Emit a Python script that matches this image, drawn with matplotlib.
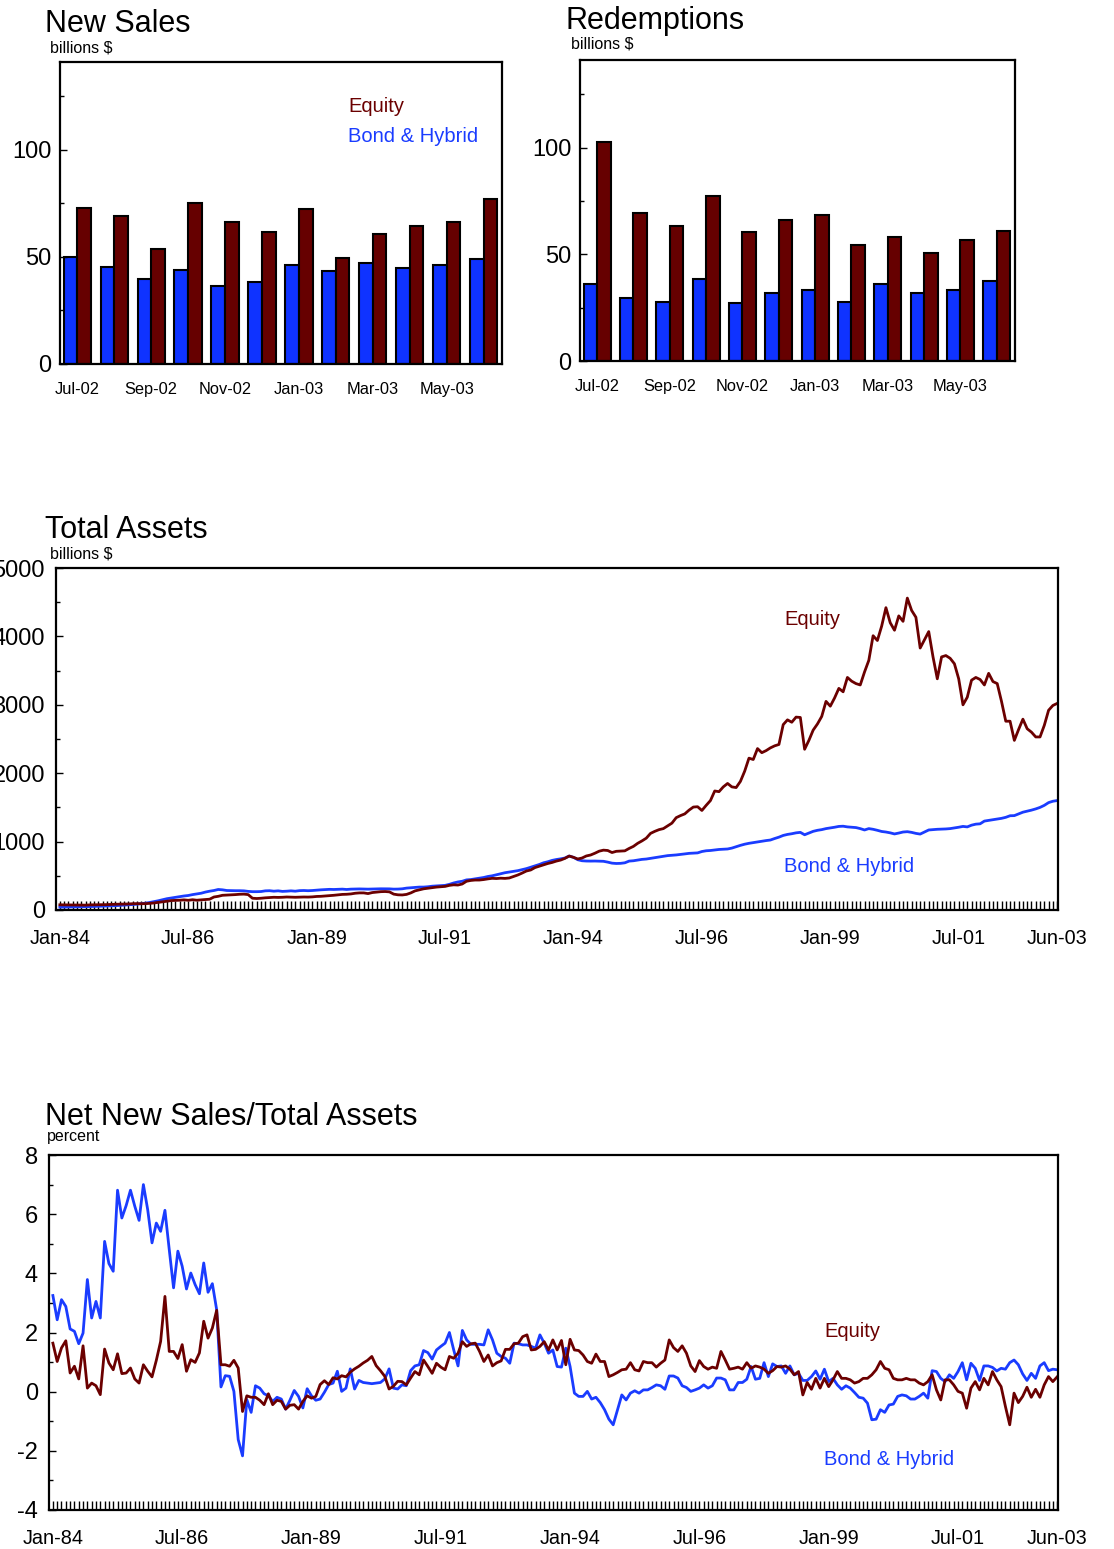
import numpy as np
import pandas as pd
import matplotlib
matplotlib.use("Agg")
import matplotlib.pyplot as plt
from matplotlib.ticker import MultipleLocator, FixedLocator

plt.rcParams['font.family'] = ['Liberation Sans', 'DejaVu Sans']
plt.rcParams['axes.unicode_minus'] = False

EQ = '#660000'
BOND = '#0F33FF'
EQ_LINE = '#6B0000'
BOND_LINE = '#1A3CFF'

# ---- monthly flows, billions $ (Jul-02 .. Jun-03)
bar_months = ['Jul-02', 'Aug-02', 'Sep-02', 'Oct-02', 'Nov-02', 'Dec-02',
              'Jan-03', 'Feb-03', 'Mar-03', 'Apr-03', 'May-03', 'Jun-03']
sales_bond = [50.0, 45.3, 39.9, 44.0, 36.5, 38.5, 46.0, 43.5, 47.0, 44.7, 46.0, 48.8]
sales_equity = [72.7, 69.1, 53.7, 75.2, 66.1, 61.5, 72.2, 49.5, 60.7, 64.3, 66.1, 76.9]
redemp_bond = [36.2, 29.7, 27.8, 38.6, 27.4, 32.0, 33.3, 27.8, 36.2, 32.0, 33.3, 37.3]
redemp_equity = [102.5, 69.2, 63.1, 77.4, 60.2, 66.1, 68.4, 54.3, 57.9, 50.5, 56.8, 60.8]

# ---- total assets, billions $ (Jan-84 .. Jun-03, one row per year)
assets_equity = [
    76, 75, 74, 73, 72, 72, 71, 75, 76, 76, 77, 79,
    82, 84, 85, 86, 88, 92, 93, 92, 93, 97, 103, 112,
    120, 128, 138, 140, 143, 148, 142, 150, 143, 148, 153, 158,
    190, 200, 215, 218, 220, 225, 230, 232, 225, 172, 168, 172,
    178, 182, 186, 184, 186, 190, 188, 186, 188, 190, 189, 192,
    198, 200, 205, 210, 215, 222, 228, 230, 235, 245, 250, 250,
    240, 255, 262, 268, 270, 265, 232, 222, 220, 228, 250, 280,
    295, 310, 318, 325, 335, 340, 345, 360, 368, 365, 380, 420,
    432, 438, 438, 445, 455, 463, 460, 465, 462, 468, 490, 512,
    540, 570, 585, 620, 640, 660, 680, 695, 715, 730, 755, 789,
    770, 746, 760, 790, 804, 830, 860, 875, 870, 840, 858, 862,
    865, 900, 930, 975, 1010, 1050, 1120, 1150, 1175, 1190, 1230, 1270,
    1350, 1380, 1405, 1460, 1505, 1510, 1455, 1530, 1600, 1740, 1730, 1800,
    1850, 1800, 1790, 1880, 2030, 2220, 2200, 2360, 2300, 2330, 2370, 2400,
    2420, 2710, 2780, 2745, 2820, 2815, 2350, 2480, 2630, 2720, 2830, 3050,
    2980, 3100, 3240, 3190, 3400, 3345, 3310, 3290, 3480, 3650, 4010, 3940,
    4150, 4420, 4200, 4090, 4300, 4220, 4560, 4380, 4280, 3830, 3950, 4070,
    3700, 3380, 3700, 3720, 3680, 3600, 3380, 3000, 3110, 3360, 3400, 3370,
    3290, 3460, 3340, 3310, 3050, 2760, 2760, 2480, 2640, 2790, 2650, 2600,
    2530, 2530, 2700, 2920, 2990, 3020,
]
assets_bond = [
    42, 43, 44, 45, 46, 47, 48, 50, 52, 54, 56, 58,
    60, 63, 67, 72, 76, 80, 85, 92, 100, 110, 122, 135,
    150, 165, 175, 185, 195, 205, 212, 225, 235, 245, 262, 275,
    285, 300, 295, 285, 283, 282, 282, 280, 272, 268, 268, 270,
    280, 282, 275, 280, 272, 275, 280, 275, 283, 285, 282, 285,
    290, 295, 298, 302, 300, 302, 305, 300, 305, 307, 308, 306,
    305, 307, 308, 310, 310, 309, 305, 306, 310, 320, 325, 330,
    335, 335, 340, 348, 352, 356, 360, 375, 395, 410, 420, 440,
    445, 455, 465, 475, 490, 500, 515, 530, 545, 555, 565, 575,
    590, 605, 625, 645, 665, 690, 705, 725, 738, 748, 760, 789,
    770, 735, 720, 716, 715, 716, 714, 712, 700, 685, 680, 682,
    690, 715, 720, 730, 740, 745, 755, 765, 775, 785, 795, 800,
    805, 812, 820, 828, 832, 835, 855, 866, 870, 878, 885, 888,
    892, 905, 925, 945, 962, 975, 985, 995, 1005, 1015, 1023, 1045,
    1065, 1090, 1105, 1115, 1128, 1135, 1100, 1125, 1150, 1165, 1175, 1190,
    1200, 1210, 1222, 1225, 1215, 1210, 1205, 1190, 1170, 1190, 1180, 1165,
    1148, 1140, 1128, 1112, 1125, 1140, 1145, 1135, 1120, 1110, 1140, 1170,
    1175, 1180, 1182, 1185, 1190, 1200, 1210, 1222, 1215, 1240, 1255, 1260,
    1300, 1310, 1320, 1330, 1340, 1355, 1378, 1380, 1405, 1430, 1445, 1460,
    1478, 1500, 1530, 1570, 1590, 1600,
]

# ---- net new sales / total assets, percent
net_equity = [
    1.64, 1.02, 1.48, 1.72, 0.63, 0.86, 0.43, 1.55, 0.12, 0.29, 0.20, -0.10,
    1.44, 0.97, 0.74, 1.28, 0.61, 0.63, 0.80, 0.43, 0.29, 0.91, 0.69, 0.50,
    1.06, 1.70, 3.22, 1.36, 1.36, 1.12, 1.59, 0.69, 1.08, 0.99, 1.31, 2.38,
    1.81, 2.15, 2.75, 0.91, 0.91, 0.86, 1.06, 0.80, -0.67, -0.14, -0.19, -0.19,
    -0.29, -0.44, -0.07, -0.44, -0.29, -0.33, -0.59, -0.46, -0.44, -0.59, -0.33, -0.14,
    -0.22, -0.16, 0.24, 0.37, 0.24, 0.47, 0.43, 0.54, 0.50, 0.66, 0.77, 0.86,
    0.97, 1.06, 1.19, 0.88, 0.71, 0.52, 0.09, 0.18, 0.35, 0.34, 0.23, 0.46,
    0.68, 0.57, 1.07, 0.85, 0.62, 0.96, 0.83, 0.74, 1.19, 1.13, 1.30, 1.69,
    1.53, 1.62, 1.64, 1.36, 1.02, 1.24, 0.87, 0.98, 1.04, 1.43, 1.43, 1.62,
    1.64, 1.86, 1.92, 1.41, 1.43, 1.53, 1.69, 1.41, 1.75, 1.41, 1.73, 0.91,
    1.77, 1.41, 1.39, 1.24, 1.02, 0.96, 1.27, 1.02, 1.02, 0.51, 0.57, 0.65,
    0.74, 0.76, 0.98, 0.74, 0.70, 1.02, 0.98, 0.98, 0.83, 0.96, 1.07, 1.75,
    1.49, 1.36, 1.55, 1.30, 0.87, 0.68, 1.05, 0.85, 0.76, 0.83, 0.79, 1.36,
    1.07, 0.76, 0.79, 0.83, 0.76, 0.98, 0.79, 0.87, 0.83, 0.76, 0.62, 0.71,
    0.85, 0.83, 0.87, 0.76, 0.57, 0.68, -0.11, 0.31, 0.08, 0.45, 0.12, 0.45,
    0.17, 0.40, 0.68, 0.45, 0.45, 0.40, 0.29, 0.34, 0.45, 0.45, 0.57, 0.74,
    1.02, 0.79, 0.74, 0.45, 0.40, 0.40, 0.45, 0.40, 0.40, 0.29, 0.23, 0.34,
    0.57, 0.06, -0.28, 0.40, 0.40, 0.23, 0.01, -0.05, -0.56, 0.12, 0.34, 0.06,
    0.45, 0.23, 0.68, 0.40, 0.17, -0.50, -1.12, -0.05, -0.37, -0.16, 0.15, -0.19,
    0.08, -0.19, 0.23, 0.51, 0.34, 0.50,
]
net_bond = [
    3.25, 2.43, 3.11, 2.88, 2.12, 2.04, 1.62, 1.98, 3.79, 2.49, 3.05, 2.49,
    5.08, 4.33, 4.07, 6.81, 5.87, 6.29, 6.81, 6.27, 5.79, 7.00, 6.15, 5.03,
    5.70, 5.42, 6.13, 4.80, 3.51, 4.75, 4.24, 3.47, 4.01, 3.62, 3.31, 4.35,
    3.36, 3.65, 2.77, 0.16, 0.54, 0.52, 0.01, -1.62, -2.17, -0.27, -0.70, 0.20,
    0.12, -0.07, -0.14, -0.33, -0.19, -0.25, -0.59, -0.29, 0.04, -0.16, -0.55, 0.10,
    -0.14, -0.29, -0.25, -0.02, 0.24, 0.29, 0.69, 0.01, 0.12, 0.77, 0.09, 0.38,
    0.31, 0.29, 0.27, 0.29, 0.31, 0.43, 0.77, 0.12, 0.09, 0.23, 0.20, 0.71,
    0.87, 0.91, 1.39, 1.32, 1.10, 1.41, 1.53, 1.64, 2.00, 1.41, 0.87, 2.07,
    1.75, 1.60, 1.60, 1.60, 1.58, 2.09, 1.75, 1.30, 1.19, 1.13, 0.96, 1.64,
    1.62, 1.58, 1.58, 1.53, 1.47, 1.92, 1.64, 1.30, 1.41, 0.85, 0.83, 1.47,
    0.85, -0.05, -0.16, -0.16, 0.01, -0.25, -0.19, -0.37, -0.61, -0.93, -1.12, -0.61,
    -0.11, -0.28, -0.05, 0.03, -0.05, 0.06, 0.06, 0.14, 0.23, 0.20, 0.08, 0.53,
    0.53, 0.46, 0.20, 0.14, 0.01, 0.06, 0.12, 0.23, 0.12, 0.20, 0.46, 0.46,
    0.40, 0.06, 0.06, 0.31, 0.31, 0.42, 0.85, 0.42, 0.45, 0.98, 0.51, 0.94,
    0.85, 0.87, 0.62, 0.87, 0.57, 0.62, 0.38, 0.38, 0.51, 0.70, 0.42, 0.76,
    0.34, 0.45, 0.23, 0.08, 0.20, 0.12, -0.03, -0.19, -0.22, -0.39, -0.95, -0.93,
    -0.61, -0.70, -0.45, -0.42, -0.16, -0.11, -0.14, -0.25, -0.25, -0.16, -0.05, -0.22,
    0.71, 0.68, 0.45, 0.34, 0.57, 0.45, 0.68, 0.98, 0.40, 0.96, 0.79, 0.38,
    0.87, 0.87, 0.82, 0.70, 0.79, 0.76, 0.98, 1.07, 0.91, 0.60, 0.38, 0.62,
    0.45, 0.87, 0.98, 0.71, 0.76, 0.74,
]

line_dates = pd.date_range('1984-01-01', periods=len(assets_equity), freq='MS')
line_ticks = ['Jan-84', 'Jul-86', 'Jan-89', 'Jul-91', 'Jan-94',
              'Jul-96', 'Jan-99', 'Jul-01', 'Jun-03']

W, H = 1114, 1549
fig = plt.figure(figsize=(W / 100, H / 100), dpi=100)


def px_axes(left, top, right, bottom):
    return fig.add_axes([left / W, 1 - bottom / H, (right - left) / W, (bottom - top) / H])


def heading(x, y_title, y_unit, title, unit, unit_x=None):
    fig.text(x / W, 1 - y_title / H, title, fontsize=22, va='baseline')
    ux = x + 5 if unit_x is None else unit_x
    fig.text(ux / W, 1 - y_unit / H, unit, fontsize=11.5, va='baseline')


def style(ax, ypad):
    for s in ax.spines.values():
        s.set_linewidth(1.6)
    ax.tick_params(axis='y', which='both', direction='in', left=True, right=False,
                   labelsize=17, pad=ypad, width=1.0)
    ax.tick_params(axis='y', which='major', length=5)
    ax.tick_params(axis='y', which='minor', length=3)


def bar_panel(ax, bond, equity, labels=False):
    x = np.arange(len(bar_months))
    w = 0.37
    ax.bar(x - w / 2, bond, w, color=BOND, edgecolor='black', linewidth=1.5)
    ax.bar(x + w / 2, equity, w, color=EQ, edgecolor='black', linewidth=1.5)
    ax.set_xlim(-0.47, len(bar_months) - 0.5)
    ax.set_ylim(0, 141)
    ax.yaxis.set_major_locator(FixedLocator([0, 50, 100]))
    ax.yaxis.set_minor_locator(FixedLocator([25, 75, 125]))
    ax.set_xticks(x[::2])
    ax.set_xticklabels(bar_months[::2])
    style(ax, 6)
    ax.tick_params(axis='x', length=0, labelsize=11.8, pad=13)
    if labels:
        ax.text(7.33, 120, 'Equity', color=EQ_LINE, fontsize=14.5, va='center')
        ax.text(7.33, 106, 'Bond & Hybrid', color=BOND_LINE, fontsize=14.5, va='center')


def line_axis(ax, n):
    ax.set_xlim(-0.9, n - 0.8)
    ax.xaxis.set_minor_locator(MultipleLocator(1))
    pos = [list(line_dates.strftime('%b-%y')).index(t) for t in line_ticks]
    ax.set_xticks(pos)
    ax.set_xticklabels(line_ticks)
    ax.tick_params(axis='x', which='both', direction='in', length=6.5, width=1.0,
                   labelsize=14.3, pad=14, top=False)


# New Sales
ax1 = px_axes(60, 62, 502, 364)
bar_panel(ax1, sales_bond, sales_equity, labels=True)
heading(45, 32, 52, 'New Sales', 'billions $')

# Redemptions
ax2 = px_axes(580, 60, 1015, 361)
bar_panel(ax2, redemp_bond, redemp_equity)
heading(566, 29, 49, 'Redemptions', 'billions $')

# Total Assets
x = np.arange(len(assets_equity))
ax3 = px_axes(56, 568, 1058, 910)
ax3.plot(x, assets_bond, color=BOND_LINE, lw=2.0)
ax3.plot(x, assets_equity, color=EQ_LINE, lw=2.0)
ax3.set_ylim(0, 5000)
ax3.yaxis.set_major_locator(MultipleLocator(1000))
ax3.yaxis.set_minor_locator(MultipleLocator(500))
style(ax3, 8)
line_axis(ax3, len(x))
ax3.text(169.3, 4240, 'Equity', color=EQ_LINE, fontsize=14.5, va='center')
ax3.text(169.3, 643, 'Bond & Hybrid', color=BOND_LINE, fontsize=14.5, va='center')
heading(45, 538, 559, 'Total Assets', 'billions $')

# Net New Sales / Total Assets
ax4 = px_axes(49, 1155, 1058, 1510)
ax4.plot(x, net_bond, color=BOND_LINE, lw=2.0)
ax4.plot(x, net_equity, color=EQ_LINE, lw=2.0)
ax4.set_ylim(-4, 8)
ax4.yaxis.set_major_locator(MultipleLocator(2))
ax4.yaxis.set_minor_locator(MultipleLocator(1))
style(ax4, 8)
line_axis(ax4, len(x))
ax4.text(178.9, 2.05, 'Equity', color=EQ_LINE, fontsize=14.5, va='center')
ax4.text(178.9, -2.3, 'Bond & Hybrid', color=BOND_LINE, fontsize=14.5, va='center')
heading(45, 1125, 1141, 'Net New Sales/Total Assets', 'percent', unit_x=47)

fig.savefig('out.png', dpi=100)
